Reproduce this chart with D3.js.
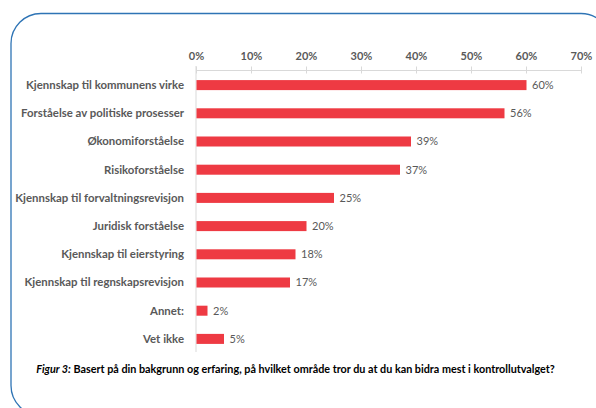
<!DOCTYPE html>
<html>
<head>
<meta charset="utf-8">
<script src="https://cdn.jsdelivr.net/npm/d3@7"></script>
<style>
  html, body { margin: 0; padding: 0; background: #fff; }
  svg { display: block; font-family: Lato, "Open Sans", sans-serif; }
</style>
</head>
<body>
<svg id="chart" width="596" height="408"></svg>
<script>
// Survey answers: which area respondents feel they contribute most to
const categories = [
  "Kjennskap til kommunens virke",
  "Forståelse av politiske prosesser",
  "Økonomiforståelse",
  "Risikoforståelse",
  "Kjennskap til forvaltningsrevisjon",
  "Juridisk forståelse",
  "Kjennskap til eierstyring",
  "Kjennskap til regnskapsrevisjon",
  "Annet:",
  "Vet ikke"
];
const shares = [0.60, 0.56, 0.39, 0.37, 0.25, 0.20, 0.18, 0.17, 0.02, 0.05];
const tickValues = [0, 0.1, 0.2, 0.3, 0.4, 0.5, 0.6, 0.7];

const svg = d3.select("#chart");

// Rounded frame around the figure
svg.append("rect")
  .attr("x", 11).attr("y", 13.5)
  .attr("width", 600).attr("height", 402)
  .attr("rx", 30).attr("ry", 30)
  .attr("fill", "none")
  .attr("stroke", "#2e74b5")
  .attr("stroke-width", 1.3);

const x = d3.scaleLinear().domain([0, 0.7]).range([196, 581]);
const y = d3.scaleBand().domain(categories).range([71, 353])
  .paddingInner(0.645).paddingOuter(0.3225);

const grey = "#595959";
const axisGrey = "#d9d9d9";

// Top percentage axis
const xAxis = svg.append("g")
  .attr("transform", "translate(0,70)")
  .call(d3.axisTop(x).tickValues(tickValues).tickFormat(d3.format(".0%")).tickSize(0).tickPadding(10));
xAxis.select(".domain").attr("stroke", axisGrey);
xAxis.selectAll("text")
  .attr("font-family", "Lato, sans-serif")
  .attr("font-size", 11).attr("font-weight", "bold").attr("fill", grey);
xAxis.selectAll(".tick").append("line")
  .attr("y1", -3.5).attr("y2", 3.5).attr("stroke", axisGrey);

// Category axis line
svg.append("line")
  .attr("x1", x(0)).attr("x2", x(0))
  .attr("y1", 66).attr("y2", 352)
  .attr("stroke", axisGrey);

// Bars
svg.append("g").selectAll("rect")
  .data(shares)
  .join("rect")
  .attr("x", x(0) + 0.5)
  .attr("y", (d, i) => y(categories[i]))
  .attr("width", d => x(d) - x(0))
  .attr("height", y.bandwidth())
  .attr("fill", "#ee3a43");

// Value labels
svg.append("g").selectAll("text")
  .data(shares)
  .join("text")
  .attr("x", d => x(d) + 6)
  .attr("y", (d, i) => y(categories[i]) + y.bandwidth() / 2)
  .attr("dy", "0.35em")
  .attr("font-size", 11)
  .attr("fill", grey)
  .text(d => d3.format(".0%")(d));

// Category labels
svg.append("g").selectAll("text")
  .data(categories)
  .join("text")
  .attr("x", 184)
  .attr("y", d => y(d) + y.bandwidth() / 2)
  .attr("dy", "0.35em")
  .attr("text-anchor", "end")
  .attr("font-size", 11.4)
  .attr("font-weight", "bold")
  .attr("fill", grey)
  .text(d => d);

// Figure caption
const caption = svg.append("text")
  .attr("x", 295.5)
  .attr("y", 373)
  .attr("text-anchor", "middle")
  .attr("font-size", 10.8)
  .attr("font-weight", "bold")
  .attr("fill", "#000");
caption.append("tspan").attr("font-style", "italic").text("Figur 3:");
caption.append("tspan").text(" Basert på din bakgrunn og erfaring, på hvilket område tror du at du kan bidra mest i kontrollutvalget?");
</script>
</body>
</html>
